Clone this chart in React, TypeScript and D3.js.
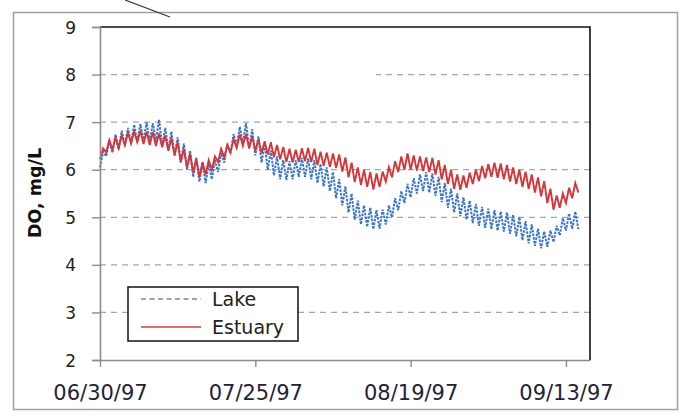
import React, { useEffect, useRef } from 'react';
import * as d3 from 'd3';

// half-day samples starting 06/30/97 (low, high, low, high ...)
const lakeDO = [
  6.05, 6.38, 6.28, 6.62, 6.36, 6.74, 6.42, 6.82, 6.5, 6.88, 6.55, 6.95, 6.58, 6.96, 6.6, 7.0, 6.58, 6.98, 6.6, 7.05,
  6.5, 6.88, 6.42, 6.8, 6.3, 6.68, 6.15, 6.55, 6.0, 6.4, 5.85, 6.25, 5.75, 6.15, 5.72, 6.12, 5.8, 6.2, 5.95, 6.35,
  6.15, 6.55, 6.35, 6.75, 6.5, 6.9, 6.55, 6.98, 6.45, 6.85, 6.3, 6.7, 6.15, 6.55, 6.0, 6.4, 5.88, 6.28, 5.8, 6.2,
  5.78, 6.18, 5.8, 6.2, 5.85, 6.25, 5.85, 6.24, 5.8, 6.2, 5.72, 6.12, 5.65, 6.05, 5.55, 5.95, 5.4, 5.8, 5.25, 5.65,
  5.1, 5.5, 4.95, 5.35, 4.85, 5.25, 4.8, 5.2, 4.75, 5.15, 4.76, 5.16, 4.85, 5.25, 5.0, 5.4, 5.15, 5.55, 5.3, 5.7,
  5.42, 5.82, 5.5, 5.9, 5.55, 5.95, 5.52, 5.92, 5.45, 5.85, 5.32, 5.72, 5.2, 5.6, 5.1, 5.5, 5.02, 5.42, 4.95, 5.35,
  4.88, 5.28, 4.82, 5.22, 4.78, 5.18, 4.75, 5.15, 4.72, 5.12, 4.7, 5.1, 4.65, 5.05, 4.6, 5.0, 4.52, 4.92, 4.45, 4.85,
  4.4, 4.76, 4.35, 4.7, 4.38, 4.72, 4.48, 4.82, 4.62, 4.98, 4.72, 5.08, 4.76, 5.12, 4.75,
];

const estuaryDO = [
  6.22, 6.45, 6.36, 6.62, 6.42, 6.68, 6.46, 6.72, 6.52, 6.78, 6.55, 6.8, 6.58, 6.82, 6.54, 6.8, 6.52, 6.79, 6.5, 6.76,
  6.47, 6.72, 6.4, 6.66, 6.3, 6.58, 6.16, 6.44, 6.05, 6.33, 5.94, 6.24, 5.84, 6.16, 5.9, 6.2, 6.0, 6.28, 6.16, 6.44,
  6.26, 6.52, 6.36, 6.64, 6.46, 6.74, 6.5, 6.75, 6.45, 6.7, 6.4, 6.64, 6.35, 6.6, 6.32, 6.58, 6.26, 6.52, 6.22, 6.48,
  6.16, 6.44, 6.15, 6.42, 6.16, 6.45, 6.18, 6.46, 6.16, 6.44, 6.1, 6.38, 6.08, 6.36, 6.06, 6.34, 6.04, 6.32, 5.96, 6.26,
  5.84, 6.15, 5.74, 6.05, 5.68, 6.0, 5.64, 5.95, 5.58, 5.92, 5.64, 5.96, 5.75, 6.05, 5.84, 6.18, 5.95, 6.28, 6.0, 6.34,
  6.0, 6.3, 5.98, 6.28, 5.97, 6.26, 5.95, 6.25, 5.9, 6.2, 5.8, 6.1, 5.7, 6.0, 5.6, 5.9, 5.58, 5.88, 5.62, 5.94,
  5.7, 6.0, 5.76, 6.08, 5.82, 6.12, 5.85, 6.15, 5.83, 6.13, 5.8, 6.1, 5.75, 6.05, 5.7, 6.0, 5.64, 5.96, 5.6, 5.9,
  5.52, 5.84, 5.44, 5.76, 5.3, 5.6, 5.16, 5.46, 5.2, 5.5, 5.3, 5.62, 5.4, 5.72, 5.52,
];

const yTicks = [2, 3, 4, 5, 6, 7, 8, 9];
const xTickDays = [0, 25, 50, 75];
const xTickLabels = ['06/30/97', '07/25/97', '08/19/97', '09/13/97'];

const App = () => {
  const ref = useRef<SVGSVGElement>(null);

  useEffect(() => {
    const svg = d3.select(ref.current);
    svg.selectAll('*').remove();

    const left = 100, right = 590, top = 27, bottom = 360;
    const x = d3.scaleLinear().domain([0, 78.87]).range([left, right]);
    const y = d3.scaleLinear().domain([2, 9]).range([bottom, top]);

    // outer frame + stray annotation line
    svg.append('rect')
      .attr('x', 13.5).attr('y', 12.5).attr('width', 664).attr('height', 397)
      .attr('fill', 'white').attr('stroke', '#a0a0a0').attr('stroke-width', 1.5);
    svg.append('line')
      .attr('x1', 125).attr('y1', 0).attr('x2', 170).attr('y2', 17)
      .attr('stroke', '#333').attr('stroke-width', 1.2);

    // gridlines
    svg.append('g')
      .selectAll('line')
      .data(yTicks.filter((t) => t > 2 && t < 9))
      .join('line')
      .attr('x1', left).attr('x2', right)
      .attr('y1', (d) => y(d)).attr('y2', (d) => y(d))
      .attr('stroke', '#a6a6a6').attr('stroke-width', 1.2)
      .attr('stroke-dasharray', '6,5');
    // gap in the 8 gridline, as in the source
    svg.append('rect')
      .attr('x', 252).attr('y', y(8) - 3).attr('width', 124).attr('height', 6)
      .attr('fill', 'white');

    const line = d3.line<number>()
      .x((d, i) => x(i * 0.5))
      .y((d) => y(d));

    svg.append('path')
      .datum(lakeDO)
      .attr('d', line)
      .attr('fill', 'none')
      .attr('stroke', '#3a74c8')
      .attr('stroke-width', 2)
      .attr('stroke-dasharray', '2.5,1.2');

    svg.append('path')
      .datum(estuaryDO)
      .attr('d', line)
      .attr('fill', 'none')
      .attr('stroke', '#d4363a')
      .attr('stroke-width', 1.9);

    // frame top/right black
    svg.append('path')
      .attr('d', `M${left},${top}H${right}V${bottom}`)
      .attr('fill', 'none').attr('stroke', '#111').attr('stroke-width', 1.6);

    const font = 'DejaVu Sans, sans-serif';

    const yAxis = svg.append('g')
      .attr('transform', `translate(${left},0)`)
      .call(d3.axisLeft(y).tickValues(yTicks).tickSize(8).tickPadding(16).tickFormat(d3.format('d')));
    yAxis.select('.domain').attr('stroke', '#8c8c8c').attr('stroke-width', 1.6);
    yAxis.selectAll('.tick line').attr('stroke', '#8c8c8c').attr('stroke-width', 1.4);
    yAxis.selectAll('.tick text')
      .attr('font-family', font).attr('font-size', 17).attr('fill', '#222').attr('dy', '0.36em');

    const xAxis = svg.append('g')
      .attr('transform', `translate(0,${bottom})`)
      .call(
        d3.axisBottom(x)
          .tickValues(xTickDays)
          .tickSize(7)
          .tickSizeOuter(0)
          .tickPadding(18)
          .tickFormat((d, i) => xTickLabels[i])
      );
    xAxis.select('.domain').attr('stroke', '#8c8c8c').attr('stroke-width', 1.6);
    xAxis.selectAll('.tick line').attr('stroke', '#8c8c8c').attr('stroke-width', 1.4);
    xAxis.selectAll('.tick text')
      .attr('font-family', font).attr('font-size', 21).attr('fill', '#232338');

    svg.append('text')
      .attr('transform', 'translate(41,193) rotate(-90)')
      .attr('text-anchor', 'middle')
      .attr('font-family', font).attr('font-weight', 'bold').attr('font-size', 17.5)
      .attr('fill', '#111')
      .text('DO, mg/L');

    // legend
    const lg = svg.append('g');
    lg.append('rect')
      .attr('x', 128).attr('y', 287).attr('width', 170).attr('height', 54)
      .attr('fill', 'white').attr('stroke', '#111').attr('stroke-width', 1.5);
    lg.append('line')
      .attr('x1', 141).attr('x2', 201).attr('y1', 299).attr('y2', 299)
      .attr('stroke', '#6f86a8').attr('stroke-width', 1.3).attr('stroke-dasharray', '5,3.5');
    lg.append('line')
      .attr('x1', 141).attr('x2', 201).attr('y1', 327).attr('y2', 327)
      .attr('stroke', '#d63a3a').attr('stroke-width', 1.5);
    lg.append('text').attr('x', 212).attr('y', 306)
      .attr('font-family', font).attr('font-size', 19).attr('fill', '#222').text('Lake');
    lg.append('text').attr('x', 212).attr('y', 334)
      .attr('font-family', font).attr('font-size', 19).attr('fill', '#222').text('Estuary');
  }, []);

  return (
    <svg
      ref={ref}
      width={682}
      height={418}
      style={{ position: 'absolute', left: 0, top: 0, background: 'white' }}
    />
  );
};

export default App;
